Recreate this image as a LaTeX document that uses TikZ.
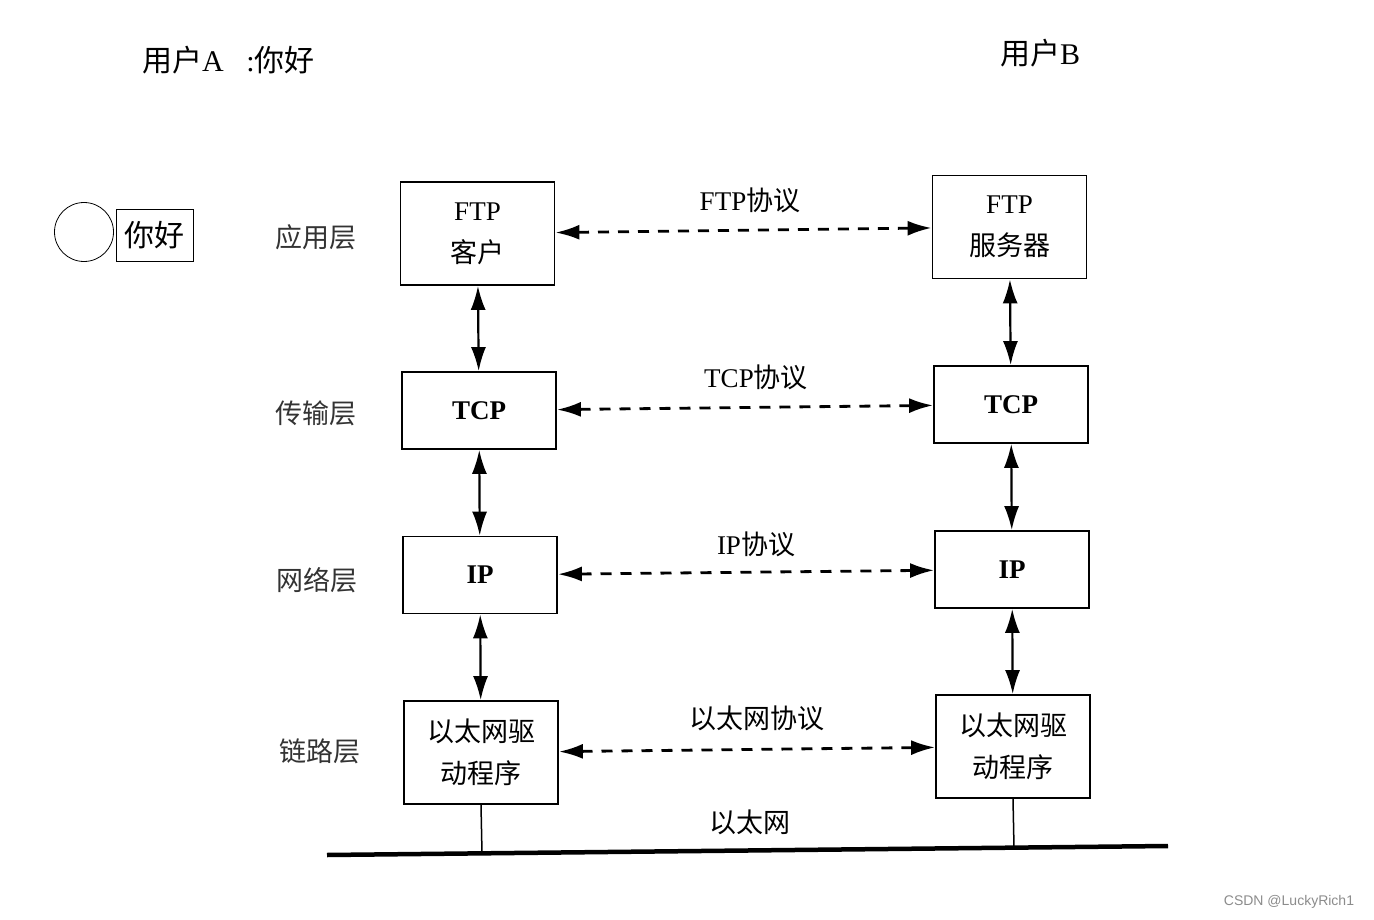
\documentclass[tikz,border=0pt]{standalone}
\usepackage{fontspec}
\setmainfont{Liberation Serif}
\newfontfamily\cjk{Noto Sans CJK SC}
\newfontfamily\wmfont{Liberation Sans}
\usetikzlibrary{arrows.meta,calc}
\begin{document}
\begin{tikzpicture}[x=1pt,y=-1pt,
  layerbox/.style={draw,line width=1.8pt,minimum width=154pt,inner sep=0pt,align=center,
    font=\fontsize{27}{42}\selectfont},
  tallbox/.style={layerbox,minimum height=103pt},
  shortbox/.style={layerbox,minimum height=77pt},
  vlink/.style={line width=2.2pt,{Latex[length=24pt,width=15pt]}-{Latex[length=24pt,width=15pt]}},
  hlink/.style={line width=2.8pt,dash pattern=on 11pt off 9pt,{Latex[length=24pt,width=15pt]}-{Latex[length=24pt,width=15pt]}},
  proto/.style={font=\fontsize{27}{30}\selectfont,inner sep=0pt},
  layer/.style={font=\cjk\fontsize{27}{30}\selectfont,text=black!80,inner sep=0pt},
  usertext/.style={font=\fontsize{30}{34}\selectfont,inner sep=0pt}]
\useasboundingbox (0,0) rectangle (1374,920);
\fill[white] (0,0) rectangle (1374,920);

% user labels
\node[usertext,anchor=west] (ua) at (142,60) {{\cjk 用户}A\ \ \ :{\cjk 你好}};
\node[usertext,anchor=west] (ub) at (1000,53) {{\cjk 用户}B};
\node[draw,circle,minimum size=59pt,inner sep=0pt,line width=0.8pt] (circ) at (84,232) {};
\node[draw,line width=0.8pt,minimum width=77pt,minimum height=52pt,inner sep=0pt,
  font=\cjk\fontsize{30}{34}\selectfont] (msg) at (154.5,235) {你好};

% layer labels
\node[layer] (lapp) at (316,237) {应用层};
\node[layer] (ltr) at (316,413) {传输层};
\node[layer] (lnet) at (317,580) {网络层};
\node[layer] (llink) at (320,751) {链路层};

% left stack
\node[tallbox] (a1) at (477.5,233.5) {FTP\\{\cjk 客户}};
\node[shortbox] (a2) at (479,410.5) {\textbf{TCP}};
\node[shortbox] (a3) at (480,575) {\textbf{IP}};
\node[tallbox] (a4) at (481,752.5) {{\cjk 以太网驱}\\{\cjk 动程序}};

% right stack
\node[tallbox] (b1) at (1009.5,227) {FTP\\{\cjk 服务器}};
\node[shortbox] (b2) at (1011,404.5) {\textbf{TCP}};
\node[shortbox] (b3) at (1012,569.5) {\textbf{IP}};
\node[tallbox] (b4) at (1013,746.5) {{\cjk 以太网驱}\\{\cjk 动程序}};

% vertical links
\draw[vlink] (a1) -- (a2);
\draw[vlink] (a2) -- (a3);
\draw[vlink] (a3) -- (a4);
\draw[vlink] (b1) -- (b2);
\draw[vlink] (b2) -- (b3);
\draw[vlink] (b3) -- (b4);

% horizontal protocol links
\draw[hlink] (a1) -- (b1);
\draw[hlink] (a2) -- (b2);
\draw[hlink] (a3) -- (b3);
\draw[hlink] (a4) -- (b4);

% protocol labels
\node[proto] (p1) at (750,200) {FTP{\cjk 协议}};
\node[proto] (p2) at (756,377) {TCP{\cjk 协议}};
\node[proto] (p3) at (756,544) {IP{\cjk 协议}};
\node[proto,font=\cjk\fontsize{27}{30}\selectfont] (p4) at (757,718) {以太网协议};
\node[proto,font=\cjk\fontsize{27}{30}\selectfont] (eth) at (750,822) {以太网};

% ethernet cable
\coordinate (eL) at (327,855);
\coordinate (eR) at (1168,846);
\coordinate (tA) at (482,853.3);
\coordinate (tB) at (1014,847.6);
\draw[line width=4.5pt] (eL) -- (eR);
\draw[line width=1.5pt] (a4.south) -- (tA);
\draw[line width=1.5pt] (b4.south) -- (tB);

% watermark
\node[font=\wmfont\fontsize{14}{16}\selectfont,text=black!45,inner sep=0pt] (wm) at (1289,902) {CSDN @LuckyRich1};
\end{tikzpicture}
\end{document}
